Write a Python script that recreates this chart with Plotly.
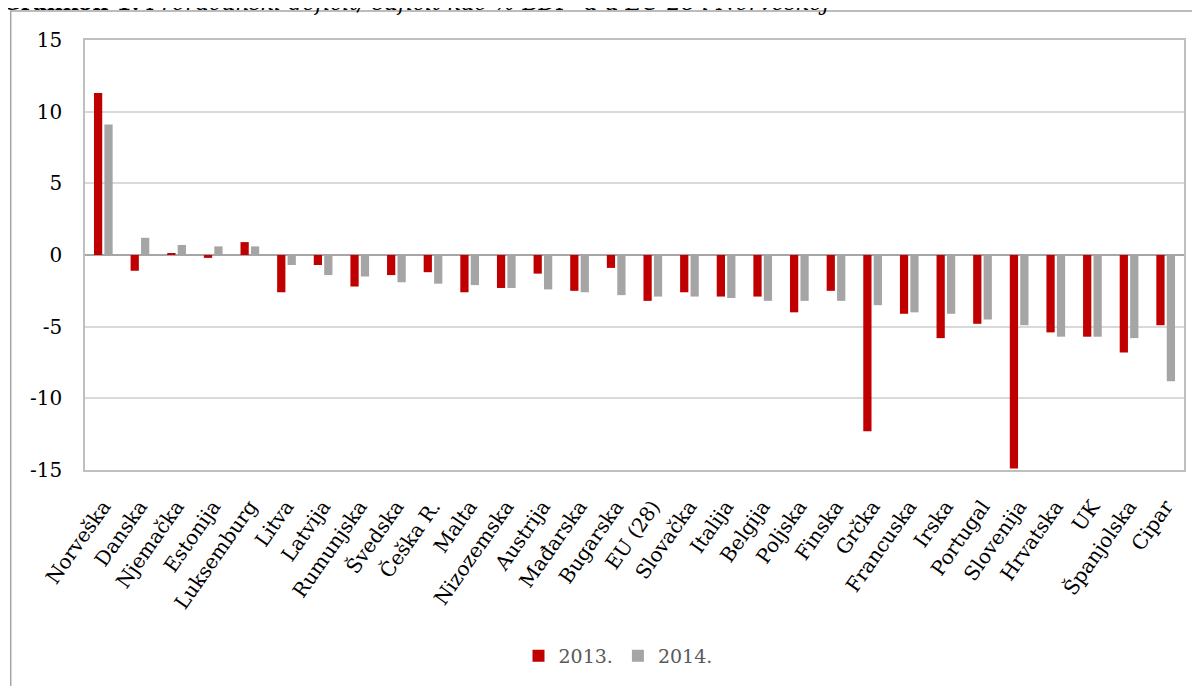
import plotly.graph_objects as go

countries = ["Norveška", "Danska", "Njemačka", "Estonija", "Luksemburg", "Litva", "Latvija",
             "Rumunjska", "Švedska", "Češka R.", "Malta", "Nizozemska", "Austrija", "Mađarska",
             "Bugarska", "EU (28)", "Slovačka", "Italija", "Belgija", "Poljska", "Finska", "Grčka",
             "Francuska", "Irska", "Portugal", "Slovenija", "Hrvatska", "UK", "Španjolska", "Cipar"]

y2013 = [11.3, -1.1, 0.1, -0.2, 0.9, -2.6, -0.7, -2.2, -1.4, -1.2, -2.6, -2.3, -1.3, -2.5,
         -0.9, -3.2, -2.6, -2.9, -2.9, -4.0, -2.5, -12.3, -4.1, -5.8, -4.8, -14.9, -5.4, -5.7,
         -6.8, -4.9]
y2014 = [9.1, 1.2, 0.7, 0.6, 0.6, -0.7, -1.4, -1.5, -1.9, -2.0, -2.1, -2.3, -2.4, -2.6,
         -2.8, -2.9, -2.9, -3.0, -3.2, -3.2, -3.2, -3.5, -4.0, -4.1, -4.5, -4.9, -5.7, -5.7,
         -5.8, -8.8]

y_ticks = [-15, -10, -5, 0, 5, 10, 15]
y_labels = ["-15", "-10", "-5", "0", "5", "10", "15"]

FONT = "DejaVu Serif"

fig = go.Figure()
fig.add_trace(go.Bar(x=countries, y=y2013, name="2013.", marker=dict(color="#C00000", line=dict(width=0))))
fig.add_trace(go.Bar(x=countries, y=y2014, name="2014.", marker=dict(color="#A5A5A5", line=dict(width=0))))

# the page body adds an 8 px offset; positions below are in screen px
OFF = 8
L, R, T, B = 85 - OFF, 1184 - OFF, 40 - OFF, 470 - OFF
def px(x):
    return (x - OFF - L) / (R - L)
def py(y):
    return (B - (y - OFF)) / (B - T)

fig.update_layout(
    width=1200, height=686,
    margin=dict(l=L, r=1200 - R, t=T, b=686 - B),
    paper_bgcolor="white", plot_bgcolor="white",
    barmode="group", bargap=0.43, bargroupgap=0.21,
    font=dict(family=FONT, color="#000000"),
    showlegend=True,
    legend=dict(orientation="h", x=px(618), xanchor="center", y=py(656), yanchor="middle",
                font=dict(size=19, color="#595959"), itemwidth=30, traceorder="normal"),
    xaxis=dict(tickangle=-55, tickfont=dict(size=20, family=FONT), showline=True, mirror=True,
               linecolor="#BFBFBF", linewidth=1.5, ticks="", showgrid=False, automargin=False,
               ticklabelstandoff=15),
    yaxis=dict(range=[-15, 15], tickvals=y_ticks, ticktext=y_labels, tickfont=dict(size=20, family=FONT),
               showline=True, mirror=True, linecolor="#BFBFBF", linewidth=1.5,
               gridcolor="#D9D9D9", gridwidth=1.5, zeroline=True, zerolinecolor="#A6A6A6",
               zerolinewidth=1.5, ticks="", ticklabelstandoff=17, automargin=False),
    shapes=[dict(type="rect", xref="paper", yref="paper", x0=px(10.7), x1=px(1240),
                 y0=py(11), y1=py(730), line=dict(color="#A6A6A6", width=1.5), layer="below")],
    annotations=[dict(xref="paper", yref="paper", x=px(0), y=py(17), xanchor="left", yanchor="bottom",
                      showarrow=False, align="left",
                      text="<b>Grafikon 1:</b> <i>Proračunski deficit/ suficit kao % BDP- a u EU 28 i Norveškoj</i>",
                      font=dict(family=FONT, size=22, color="#000000"))],
)

fig.write_html("out.html")
